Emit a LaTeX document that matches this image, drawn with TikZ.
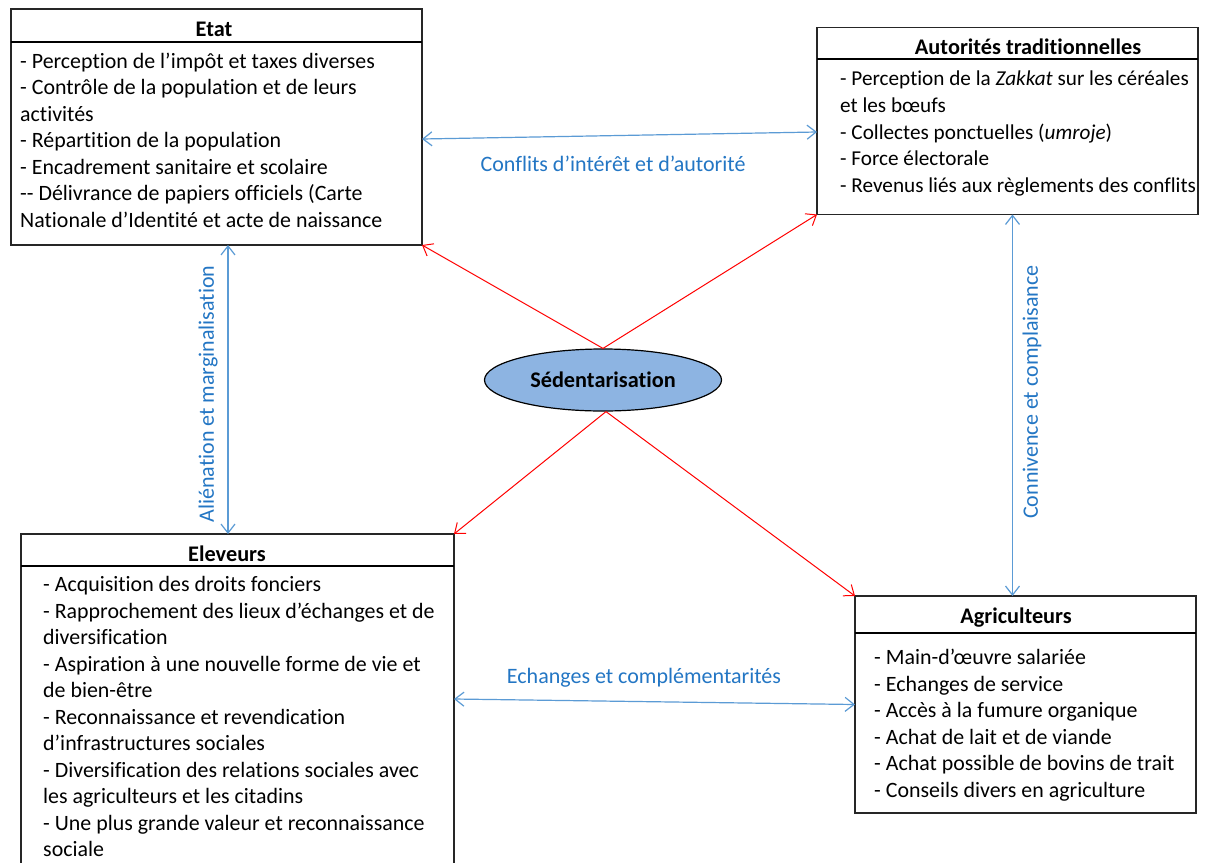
\documentclass[tikz,border=0pt]{standalone}
\usepackage{fontspec}
\setmainfont{Carlito}[Ligatures={TeX,NoCommon}]
\usetikzlibrary{arrows.meta,shapes.geometric}
\definecolor{bline}{RGB}{91,155,213}
\definecolor{btext}{RGB}{35,118,196}
\definecolor{ellfill}{RGB}{141,180,226}
\tikzset{
  box/.style={draw=black!85, line width=1.3pt, rectangle, inner sep=0pt, outer sep=0pt, anchor=north west},
  sepline/.style={draw=black, line width=2pt},
  ttl/.style={font=\fontsize{22.3}{26.5}\selectfont\bfseries, inner sep=0pt, anchor=base},
  body/.style={font=\fontsize{21.9}{26.5}\selectfont, align=left, inner sep=0pt, anchor=north west},
  smallbody/.style={body, font=\fontsize{21.2}{26.6}\selectfont},
  lab/.style={font=\fontsize{22}{26.5}\selectfont, text=btext, inner sep=0pt},
  barb/.tip={Straight Barb[length=9pt,width=14pt]},
  bluearr/.style={draw=bline, line width=1.2pt, barb-barb},
  redarr/.style={draw=red, line width=1pt, -barb},
}
\begin{document}
\begin{tikzpicture}[x=1pt,y=-1pt]
\fill[white] (0,0) rectangle (1206,862);
\clip (0,0) rectangle (1206,862);

% Etat
\node[box, minimum width=411pt, minimum height=236pt] (etat) at (11,9) {};
\draw[sepline] ([yshift=-33pt]etat.north west) -- ([yshift=-33pt]etat.north east);
\node[ttl] (etatT) at (214,36.5) {Etat};
\node[body] (etatB) at (20,49.5) {\strut- Perception de l’impôt et taxes diverses\\
- Contrôle de la population et de leurs\\
activités\\
- Répartition de la population\\
- Encadrement sanitaire et scolaire\\
-{}- Délivrance de papiers officiels (Carte\\
Nationale d’Identité et acte de naissance};

% Autorites
\node[box, minimum width=381pt, minimum height=187pt] (aut) at (817,27.5) {};
\draw[sepline] ([yshift=-31pt]aut.north west) -- ([yshift=-31pt]aut.north east);
\node[ttl] (autT) at (1028,54) {Autorités traditionnelles};
\node[smallbody] (autB) at (840,67) {\strut- Perception de la \textit{Zakkat} sur les céréales\\
et les bœufs\\
- Collectes ponctuelles (\textit{umroje})\\
- Force électorale\\
- Revenus liés aux règlements des conflits};

% Ellipse
\node[ellipse, draw=black, line width=1.2pt, fill=ellfill, minimum width=237pt, minimum height=62pt, inner sep=0pt,
  font=\fontsize{22.3}{26.5}\selectfont\bfseries] (sed) at (603,380) {Sédentarisation};

% Eleveurs
\node[box, minimum width=433pt, minimum height=360pt] (elev) at (21,534) {};
\draw[sepline] ([yshift=-32pt]elev.north west) -- ([yshift=-32pt]elev.north east);
\node[ttl] (elevT) at (227,561) {Eleveurs};
\node[body] (elevB) at (43,573) {\strut- Acquisition des droits fonciers\\
- Rapprochement des lieux d’échanges et de\\
diversification\\
- Aspiration à une nouvelle forme de vie et\\
de bien-être\\
- Reconnaissance et revendication\\
d’infrastructures sociales\\
- Diversification des relations sociales avec\\
les agriculteurs et les citadins\\
- Une plus grande valeur et reconnaissance\\
sociale};

% Agriculteurs
\node[box, minimum width=341pt, minimum height=217pt] (agri) at (855,596) {};
\draw[sepline] ([yshift=-37pt]agri.north west) -- ([yshift=-37pt]agri.north east);
\node[ttl] (agriT) at (1016,623) {Agriculteurs};
\node[body] (agriB) at (874,646) {\strut- Main-d’œuvre salariée\\
- Echanges de service\\
- Accès à la fumure organique\\
- Achat de lait et de viande\\
- Achat possible de bovins de trait\\
- Conseils divers en agriculture};

% Blue connectors
\draw[bluearr] ([yshift=-12pt]etat.east) -- ([yshift=-11pt]aut.west);
\node[lab] (l1) at (613,164) {Conflits d’intérêt et d’autorité};
\draw[bluearr] ([xshift=11.5pt]etat.south) -- ([xshift=-9.5pt]elev.north);
\node[lab, rotate=90] (l2) at (208,394) {Aliénation et marginalisation};
\draw[bluearr] ([xshift=5pt]aut.south) -- ([xshift=-13pt]agri.north);
\node[lab, rotate=90] (l3) at (1032,392) {Connivence et complaisance};
\draw[bluearr] ([yshift=15pt]elev.east) -- (agri.west);
\node[lab] (l4) at (644,678) {Echanges et complémentarités};

% Red connectors
\draw[redarr] (sed.north) -- (etat.south east);
\draw[redarr] (sed.north) -- (aut.south west);
\draw[redarr] ([xshift=3pt]sed.south) -- (elev.north east);
\draw[redarr] ([xshift=3pt]sed.south) -- (agri.north west);
\end{tikzpicture}
\end{document}
